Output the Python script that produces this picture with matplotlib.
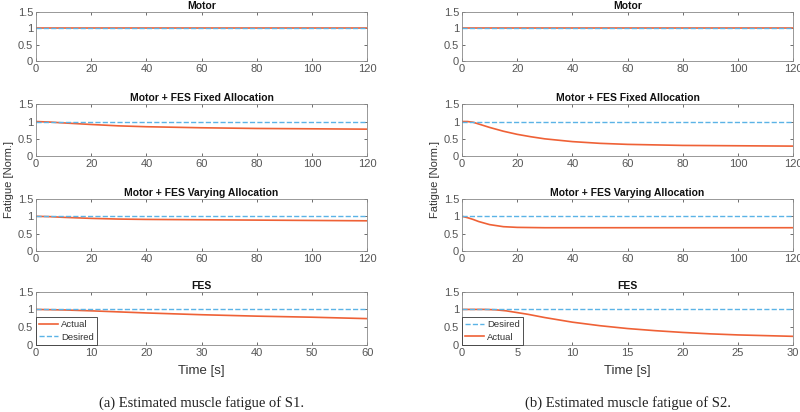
import matplotlib
matplotlib.use("Agg")
import matplotlib.pyplot as plt

plt.rcParams['font.family'] = ['Liberation Sans', 'DejaVu Sans']

# --- S1 data ---
s1_t120 = [0, 5, 10, 20, 30, 40, 50, 60, 70, 80, 90, 100, 110, 120]
s1_motor = [1, 1, 1, 1, 1, 1, 1, 1, 1, 1, 1, 1, 1, 1]
s1_fixed = [1.0, 0.985, 0.96, 0.915, 0.875, 0.85, 0.835, 0.82, 0.81, 0.80, 0.795, 0.79, 0.785, 0.78]
s1_vary = [1.0, 0.99, 0.97, 0.94, 0.92, 0.91, 0.905, 0.90, 0.895, 0.89, 0.885, 0.88, 0.875, 0.87]
s1_t60 = [0, 5, 10, 15, 20, 25, 30, 35, 40, 45, 50, 55, 60]
s1_fes = [1.0, 0.985, 0.96, 0.93, 0.9, 0.875, 0.85, 0.83, 0.81, 0.795, 0.78, 0.76, 0.74]

# --- S2 data ---
s2_t120 = [0, 2, 4, 6, 10, 15, 20, 25, 30, 40, 50, 60, 70, 80, 90, 100, 110, 120]
s2_motor = [1] * 18
s2_fixed = [1.0, 1.0, 0.98, 0.93, 0.83, 0.72, 0.63, 0.56, 0.50, 0.42, 0.37, 0.34, 0.325, 0.31, 0.305, 0.30, 0.295, 0.29]
s2_vary = [1.0, 0.96, 0.91, 0.85, 0.76, 0.70, 0.68, 0.675, 0.67, 0.67, 0.67, 0.67, 0.67, 0.67, 0.67, 0.67, 0.67, 0.67]
s2_t30 = [0, 1, 2, 3, 4, 5, 6, 7.5, 10, 12.5, 15, 17.5, 20, 22.5, 25, 27.5, 30]
s2_fes = [1.0, 1.0, 1.0, 0.99, 0.96, 0.91, 0.86, 0.77, 0.64, 0.54, 0.46, 0.40, 0.35, 0.31, 0.28, 0.26, 0.24]

titles = ["Motor", "Motor + FES Fixed Allocation", "Motor + FES Varying Allocation", "FES"]

orange = '#EF6136'
blue = '#5BB3E6'
grey = '#555555'

fig = plt.figure(figsize=(8, 4.12), dpi=100)

rows = [(0.852, 0.119), (0.621, 0.126), (0.391, 0.126), (0.163, 0.129)]
cols = [0.045, 0.5775]

panels = [
    [(s1_t120, s1_motor, 120), (s1_t120, s1_fixed, 120), (s1_t120, s1_vary, 120), (s1_t60, s1_fes, 60)],
    [(s2_t120, s2_motor, 120), (s2_t120, s2_fixed, 120), (s2_t120, s2_vary, 120), (s2_t30, s2_fes, 30)],
]

for c, x0 in enumerate(cols):
    for r, (y0, h) in enumerate(rows):
        t, y, tmax = panels[c][r]
        ax = fig.add_axes([x0, y0, 0.414, h])
        la, = ax.plot(t, y, '-', color=orange, lw=1.2, label='Actual')
        ld, = ax.plot([t[0], t[-1]], [1, 1], '--', color=blue, lw=1.0, label='Desired')
        ax.set_xlim(0, tmax)
        ax.set_ylim(0, 1.5)
        ax.set_yticks([0, 0.5, 1, 1.5])
        ax.set_yticklabels(['0', '0.5', '1', '1.5'])
        ax.set_title(titles[r], fontsize=7.5, fontweight='bold', pad=2, color='#111111')
        ax.tick_params(direction='in', length=2.5, labelsize=8, colors=grey,
                       top=True, right=True, pad=2, width=0.6)
        for sp in ax.spines.values():
            sp.set_color('#888888')
            sp.set_linewidth(0.6)
        if r == 3:
            ax.set_xlabel('Time [s]', fontsize=9.5, color='#333333', labelpad=5)
            handles = [la, ld] if c == 0 else [ld, la]
            leg = ax.legend(handles=handles, loc='lower left', fontsize=6.8,
                            handlelength=2.0, borderaxespad=0, fancybox=False,
                            edgecolor='#333333', framealpha=1, borderpad=0.35,
                            labelspacing=0.35, handletextpad=0.3)
            leg.get_frame().set_linewidth(0.6)
            for txt in leg.get_texts():
                txt.set_color('#333333')

    fig.text(x0 - 0.034, 0.565, 'Fatigue [Norm.]', rotation=90, fontsize=8,
             color='#333333', ha='center', va='center')

fig.text(0.252, 0.022, '(a) Estimated muscle fatigue of S1.', fontsize=10.5,
         family='Liberation Serif', ha='center', va='center', color='#222222')
fig.text(0.785, 0.022, '(b) Estimated muscle fatigue of S2.', fontsize=10.5,
         family='Liberation Serif', ha='center', va='center', color='#222222')

fig.savefig('out.png', dpi=100)
